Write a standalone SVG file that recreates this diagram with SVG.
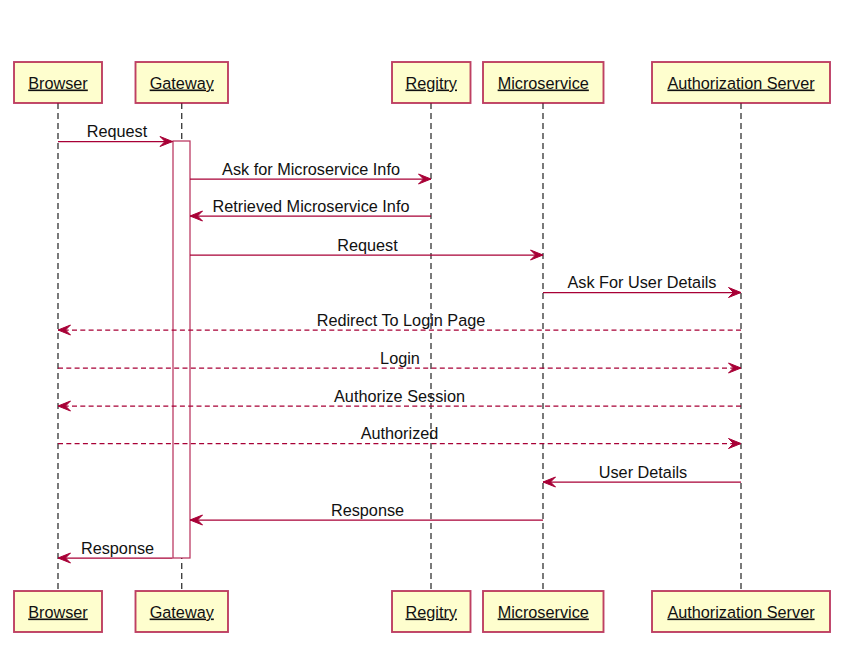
<svg xmlns="http://www.w3.org/2000/svg" width="844" height="657" viewBox="0 0 844 657">
<style>
.box{fill:#FEFECE;stroke:#A80036;stroke-opacity:0.75;stroke-width:1.9}
.pt{font-family:"Liberation Sans",Arial,sans-serif;font-size:16.25px;fill:#111;text-anchor:middle;text-decoration:underline}
.life{stroke:#222;stroke-width:1.2;stroke-dasharray:6,4;fill:none}
.act{fill:#FFFFFF;stroke:#A80036;stroke-opacity:0.8;stroke-width:1.25}
.msg{stroke:#A80036;stroke-width:1.25;fill:none;marker-end:url(#ah)}
.dash{stroke-dasharray:5,3.3}
.ml{font-family:"Liberation Sans",Arial,sans-serif;font-size:16.25px;fill:#111;text-anchor:middle}
</style>
<defs>
<marker id="ah" markerUnits="userSpaceOnUse" markerWidth="13" markerHeight="10" refX="12.5" refY="5" orient="auto" overflow="visible">
<path d="M0,0 L12.5,5 L0,10 L5,5 Z" fill="#A80036" stroke="#A80036" stroke-width="1"/>
</marker>
</defs>
<rect width="844" height="657" fill="#FFFFFF"/>
<g id="lifelines">
<line class="life" x1="58" y1="103" x2="58" y2="591"/>
<line class="life" x1="181.75" y1="103" x2="181.75" y2="591"/>
<line class="life" x1="431" y1="103" x2="431" y2="591"/>
<line class="life" x1="543" y1="103" x2="543" y2="591"/>
<line class="life" x1="741" y1="103" x2="741" y2="591"/>
</g>
<g id="activation">
<rect class="act" x="173" y="141" width="17" height="417"/>
</g>
<g id="browser">
<rect class="box" x="14" y="62" width="88" height="41"/>
<text class="pt" x="58" y="88.5">Browser</text>
<rect class="box" x="14" y="591" width="88" height="41"/>
<text class="pt" x="58" y="617.5">Browser</text>
</g>
<g id="gateway">
<rect class="box" x="135.5" y="62" width="92.5" height="41"/>
<text class="pt" x="181.75" y="88.5">Gateway</text>
<rect class="box" x="135.5" y="591" width="92.5" height="41"/>
<text class="pt" x="181.75" y="617.5">Gateway</text>
</g>
<g id="registry">
<rect class="box" x="392" y="62" width="78.5" height="41"/>
<text class="pt" x="431.25" y="88.5">Regitry</text>
<rect class="box" x="392" y="591" width="78.5" height="41"/>
<text class="pt" x="431.25" y="617.5">Regitry</text>
</g>
<g id="microservice">
<rect class="box" x="483" y="62" width="120.5" height="41"/>
<text class="pt" x="543.25" y="88.5">Microservice</text>
<rect class="box" x="483" y="591" width="120.5" height="41"/>
<text class="pt" x="543.25" y="617.5">Microservice</text>
</g>
<g id="authserver">
<rect class="box" x="652" y="62" width="178" height="41"/>
<text class="pt" x="741" y="88.5">Authorization Server</text>
<rect class="box" x="652" y="591" width="178" height="41"/>
<text class="pt" x="741" y="617.5">Authorization Server</text>
</g>
<g id="connectors">
<line class="msg" x1="58" y1="141.5" x2="172.5" y2="141.5"/>
<text class="ml" x="117" y="136.5">Request</text>
<line class="msg" x1="190" y1="179" x2="431" y2="179"/>
<text class="ml" x="311" y="174.5">Ask for Microservice Info</text>
<line class="msg" x1="431" y1="216" x2="190" y2="216"/>
<text class="ml" x="311" y="211.5">Retrieved Microservice Info</text>
<line class="msg" x1="190" y1="255" x2="543" y2="255"/>
<text class="ml" x="367.5" y="250.5">Request</text>
<line class="msg" x1="543" y1="292.5" x2="741" y2="292.5"/>
<text class="ml" x="642" y="288">Ask For User Details</text>
<line class="msg dash" x1="741" y1="330" x2="58" y2="330"/>
<text class="ml" x="401" y="325.5">Redirect To Login Page</text>
<line class="msg dash" x1="58" y1="368" x2="741" y2="368"/>
<text class="ml" x="400" y="363.5">Login</text>
<line class="msg dash" x1="741" y1="406" x2="58" y2="406"/>
<text class="ml" x="399.5" y="401.5">Authorize Session</text>
<line class="msg dash" x1="58" y1="443.5" x2="741" y2="443.5"/>
<text class="ml" x="399.5" y="439">Authorized</text>
<line class="msg" x1="741" y1="482" x2="543" y2="482"/>
<text class="ml" x="643" y="477.5">User Details</text>
<line class="msg" x1="543" y1="520" x2="190" y2="520"/>
<text class="ml" x="367.5" y="515.5">Response</text>
<line class="msg" x1="172.5" y1="558" x2="58" y2="558"/>
<text class="ml" x="117.5" y="553.5">Response</text>
</g>
</svg>
